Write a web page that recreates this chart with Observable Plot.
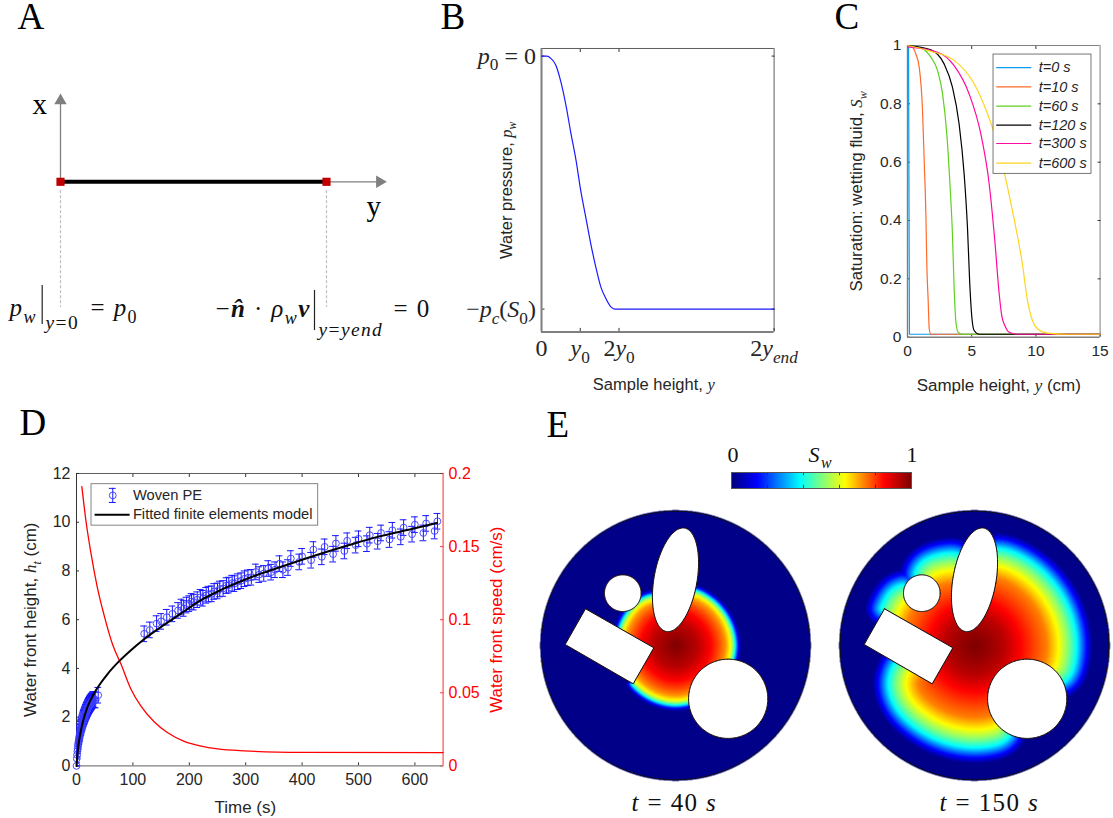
<!DOCTYPE html>
<html>
<head>
<meta charset="utf-8">
<script src="https://cdn.jsdelivr.net/npm/d3@7"></script>
<script src="https://cdn.jsdelivr.net/npm/@observablehq/plot@0.6"></script>
<style>
html,body{margin:0;padding:0;background:#fff;overflow:hidden}
#page{position:relative;width:1113px;height:818px;overflow:hidden}
#page svg{position:absolute;max-width:none;display:block}
</style>
</head>
<body>
<div id="page"></div>
<script>
/* ---------- B: water pressure profile ---------- */
const pressureY = [0,0.14,0.24,0.37,0.5,0.63,0.76,0.89,1.01,1.14,1.27,1.40,1.53,1.66,1.79,1.89,6];
const pressureP = [0,0,-0.009,-0.036,-0.102,-0.194,-0.306,-0.411,-0.530,-0.635,-0.741,-0.833,-0.912,-0.958,-0.991,-1,-1];
const pressureXTicks = [0,1,2,6];
const pressureXLabels = ["0","*y*_{0}","2*y*_{0}","2*y*_{*end*}"];
const pressureYTicks = [0,-1];
const pressureYLabels = ["*p*_{0} = 0","−*p*_{*c*}(*S*_{0})"];

/* ---------- C: saturation profiles ---------- */
const satLabels = ["t=0 s","t=10 s","t=60 s","t=120 s","t=300 s","t=600 s"];
const satColors = ["#0a9cf0","#ff6a2a","#5fd020","#000000","#ff0aa0","#ffd51e"];
const sat0X = [0,0.08,0.15,0.25,15];
const sat0S = [1,1,0.01,0.01,0.01];
const sat10X = [0,0.39,0.65,0.91,1.17,1.30,1.43,1.51,1.61,1.69,1.82,15];
const sat10S = [1,0.994,0.971,0.926,0.777,0.606,0.423,0.240,0.126,0.03,0.01,0.01];
const sat60X = [0,1.04,1.82,2.34,2.73,3.06,3.32,3.50,3.63,3.76,3.94,4.28,15];
const sat60S = [1,0.992,0.96,0.914,0.834,0.697,0.514,0.354,0.171,0.057,0.017,0.01,0.01];
const sat120X = [0,1.82,2.85,3.50,4.02,4.41,4.67,4.85,5.01,5.19,5.58,15];
const sat120S = [1,0.985,0.937,0.857,0.731,0.56,0.377,0.183,0.069,0.023,0.01,0.01];
const sat300X = [0,2.34,3.63,4.80,5.71,6.36,6.80,7.14,7.34,7.58,7.92,8.56,15];
const sat300S = [0.995,0.977,0.931,0.834,0.697,0.526,0.331,0.149,0.074,0.04,0.017,0.01,0.01];
const sat600X = [0,1.82,3.63,5.19,6.23,7.01,7.79,8.43,8.95,9.34,9.73,10.12,10.9,12.46,15];
const sat600S = [1,0.98,0.949,0.869,0.766,0.663,0.514,0.377,0.251,0.126,0.057,0.029,0.014,0.01,0.01];

/* ---------- D: water front ---------- */
const wovenTime = [0,0.5,1,1.5,2,2.5,3,3.5,4,4.5,5,5.5,6,6.5,7,7.5,8,8.5,9,9.5,10,10.5,11,11.5,12,12.5,13,13.5,14,14.5,15,15.5,16,16.5,17,17.5,18,18.5,19,19.5,20,20.5,21,21.5,22,22.5,23,23.5,24,24.5,25,25.5,26,26.5,27,27.5,28,29,30,32,34,38.5,
 120,130,142,150,160,170,180,186,190,195,200,204,208,214,220,224,230,234,240,244,250,254,260,266,270,276,280,286,292,298,304,310,318,324,332,340,345,352,360,366,375,380,395,400,416,420,435,440,455,460,475,480,495,500,515,520,534,540,555,560,575,580,595,600,615,620,635,640];
const wovenHeight = [0,0.3,0.45,0.6,0.7,0.82,0.9,0.98,1.05,1.13,1.2,1.26,1.32,1.38,1.43,1.5,1.55,1.58,1.63,1.68,1.72,1.76,1.8,1.84,1.88,1.92,1.95,1.99,2.02,2.05,2.08,2.11,2.14,2.17,2.2,2.22,2.25,2.28,2.3,2.33,2.35,2.38,2.4,2.43,2.45,2.47,2.49,2.51,2.53,2.55,2.57,2.58,2.6,2.62,2.64,2.65,2.67,2.7,2.73,2.72,2.7,2.9,
 5.42,5.58,5.84,5.93,6.1,6.24,6.38,6.52,6.46,6.6,6.66,6.75,6.72,6.82,6.92,6.88,7.0,7.05,7.06,7.16,7.18,7.26,7.28,7.4,7.42,7.5,7.48,7.56,7.6,7.68,7.72,7.74,7.96,7.85,7.9,8.1,7.95,8.05,8.3,8.05,8.14,8.51,8.37,8.6,8.44,8.88,8.58,8.99,8.69,9.13,8.82,9.24,9.06,9.32,9.12,9.47,9.22,9.56,9.29,9.67,9.40,9.78,9.51,9.90,9.56,9.95,9.64,10.04];
const wovenError = 0.32;
const fitTime = [0,1.2,4.7,10.6,19.5,31,43,55,77,96.5,117,149.7,185,220.7,256,298,328,363,400,445.5,499,534,600,639];
const fitHeight = [0,0.37,1.05,1.74,2.42,2.97,3.40,3.77,4.33,4.75,5.15,5.70,6.25,6.80,7.22,7.64,7.90,8.17,8.46,8.80,9.17,9.40,9.75,9.97];
const speedTime = [9.5,16.6,25.4,37,49,64,79,96,114,138,161,191,221,250,297,400,650];
const speedValue = [0.191,0.168,0.146,0.122,0.103,0.083,0.0695,0.053,0.041,0.030,0.0228,0.0168,0.0135,0.0116,0.0103,0.0093,0.0091];

/* ---------- E: saturation maps ---------- */
const profile40Dist = [0,22,35,44,50,54.5,57.5,59.5,62.5,65.5];
const profile40Sat  = [1,0.93,0.85,0.78,0.72,0.63,0.5,0.38,0.14,0.01];
const profile150Dist = [0,15,30,46,72,84,94,102,112,118];
const profile150Sat  = [1,0.97,0.93,0.85,0.74,0.63,0.5,0.38,0.14,0.01];
const jetStops = [0,0.14,0.38,0.5,0.63,0.85,1];
const jetColors = ["#00007f","#0000ff","#00ffff","#7fff7f","#ffff00","#ff0000","#7f0000"];
const barTicks = [0.2,0.4,0.6,0.8];
const diskRadius = 134.3;
const smallCircle = {x:-52.7,y:-52.3,r:18.3};
const bigCircle = {x:52.7,y:53.3,r:39.6};
const tiltedEllipse = {x:0,y:-65.7,a:52.5,b:21.5,deg:10};
const rectangle = [[-90,-36.7],[-21.7,2.3],[-42.3,38.3],[-110.3,-1]];

/* ---------- A: schematic ---------- */
const beamEnds = [0,1];
const axisEndY = 1.2;
const axisEndX = 0.325;

/* ---------- page-level text ---------- */
const panelLetters = [["A",17,28],["B",440,28],["C",834,28],["D",19,434],["E",546,436]];
const mathLabels = [
 ["*p*_{*w*}",9,315,25],["= *p*_{0}",90,315,25],
 ["_{*y*=0}",45,320.5,27],
 ["−~n̂~ · *ρ*_{*w*}~v~",215,316,25],["_{*y*=*y*_{*end*}}",318,327.5,27],["= 0",393,316,25],
 ["*t* = 40 *s*",631,810,25],["*t* = 150 *s*",939,810,25],
 ["0",727,461,22],["*S*_{*w*}",808,461,22],["1",906,461,22]
];
const schemLabels = [["x",32,113],["y",366,215]];
const bars = [[41.7,285,324],[314,290,330]];

/* ---------- helpers ---------- */
const page = document.getElementById("page");
const SANS = "'Liberation Sans',Arial,sans-serif";
const SERIF = "'Liberation Serif',serif";
const INK = "#262626";
const AXIS = "#7f7f7f";
const noLabel = () => "";

function mathify(root){
  root.querySelectorAll("text").forEach(t=>{
    const s=t.textContent;
    if(!/[_*~]/.test(s)) return;
    t.textContent="";
    let italic=false,bold=false,depth=0,run="",shift=0;
    const flush=()=>{
      if(!run) return;
      const ts=document.createElementNS("http://www.w3.org/2000/svg","tspan");
      const size=depth>0?0.72:1, target=depth>0?0.28:0;
      ts.textContent=run;
      ts.setAttribute("font-size",(size*100)+"%");
      ts.setAttribute("dy",((target-shift)/size).toFixed(3)+"em");
      shift=target;
      if(italic||bold){ts.setAttribute("font-style","italic");ts.setAttribute("font-family",SERIF);}
      if(bold) ts.setAttribute("font-weight","bold");
      t.appendChild(ts);run="";
    };
    for(let i=0;i<s.length;i++){
      const c=s[i];
      if(c==="_"&&s[i+1]==="{"){flush();depth++;i++;}
      else if(c==="}"){flush();depth--;}
      else if(c==="*"){flush();italic=!italic;}
      else if(c==="~"){flush();bold=!bold;}
      else run+=c;
    }
    flush();
  });
}
function place(plot,left,top){
  plot.style.left=left+"px";plot.style.top=top+"px";
  mathify(plot);page.appendChild(plot);return plot;
}
const clear={background:"transparent",overflow:"visible"};

/* ---------- Panel A ---------- */
const aPx=266;
place(Plot.plot({
  width:420,height:250,margin:0,style:clear,
  x:{domain:[-60/aPx,360/aPx],axis:null},
  y:{domain:[(181.3-310)/aPx,(181.3-60)/aPx],axis:null},
  marks:[
    Plot.ruleX(beamEnds,{y1:-0.034,y2:-0.4725,stroke:"#bdbdbd",strokeWidth:1.2,strokeDasharray:"3,2"}),
    Plot.ruleX([0],{y1:0,y2:axisEndX-0.02,stroke:AXIS,strokeWidth:1.3}),
    Plot.ruleY([0],{x1:1,x2:axisEndY,stroke:AXIS,strokeWidth:1.3}),
    Plot.dot([[0,axisEndX-0.02]],{symbol:"triangle",r:4.6,fill:AXIS}),
    Plot.dot([[axisEndY,0]],{symbol:"triangle",r:4.6,fill:AXIS,rotate:90}),
    Plot.ruleY([0],{x1:beamEnds[0],x2:beamEnds[1],stroke:"#000",strokeWidth:4}),
    Plot.dot(beamEnds.map(x=>[x,0]),{symbol:"square",r:4.6,fill:"#c00000"})
  ]
}),0,60);

/* ---------- Panel B ---------- */
{
  const ml=100,mr=40,mt=10,mb=70,L=540.7,R=773.3,T=48.3,B=331.7;
  const yDom=[-1.09,0.03];
  place(Plot.plot({
    width:R-L+ml+mr,height:B-T+mt+mb,marginLeft:ml,marginRight:mr,marginTop:mt,marginBottom:mb,
    style:{...clear,fontFamily:SANS,color:INK},
    x:{domain:[0,6]},y:{domain:yDom},
    marks:[
      Plot.ruleX([6],{stroke:"#333",strokeWidth:0.8}),
      Plot.ruleY([yDom[1]],{stroke:"#333",strokeWidth:0.8}),
      Plot.axisX({anchor:"top",ticks:pressureXTicks.slice(1,3),tickSize:-3,tickFormat:noLabel,label:null,stroke:"#333"}),
      Plot.axisY({anchor:"right",ticks:pressureYTicks,tickSize:-3,tickFormat:noLabel,label:null,stroke:"#333"}),
      Plot.axisX({ticks:pressureXTicks,tickSize:-3.5,tickPadding:11,label:null,stroke:"#333",fontSize:24,fontFamily:SERIF,
        tickFormat:d=>pressureXLabels[pressureXTicks.indexOf(d)]}),
      Plot.axisY({ticks:pressureYTicks,tickSize:-3.5,tickPadding:9,label:null,stroke:"#333",fontSize:24,fontFamily:SERIF,
        tickFormat:d=>pressureYLabels[pressureYTicks.indexOf(d)]}),
      Plot.ruleX([0],{stroke:AXIS,strokeWidth:2}),
      Plot.ruleY([yDom[0]],{stroke:AXIS,strokeWidth:2}),
      Plot.line(pressureY.map((x,i)=>[x,pressureP[i]]),{stroke:"#1a1aff",strokeWidth:1.2,curve:"monotone-x"}),
      Plot.text(["Sample height, *y*"],{frameAnchor:"bottom",dx:-4,dy:58,fontSize:16.5,fill:INK}),
      Plot.text(["Water pressure, *p*_{*w*}"],{frameAnchor:"left",textAnchor:"middle",dx:-35,rotate:-90,fontSize:16.5,fill:INK})
    ]
  }),L-ml,T-mt);
}

/* ---------- Panel C ---------- */
{
  const ml=70,mr=14,mt=10,mb=62,L=906.7,R=1099.3,T=45,B=336.7;
  const seriesX=[sat0X,sat10X,sat60X,sat120X,sat300X,sat600X];
  const seriesS=[sat0S,sat10S,sat60S,sat120S,sat300S,sat600S];
  const legendY=[0.924,0.858,0.792,0.727,0.664,0.597];
  place(Plot.plot({
    width:R-L+ml+mr,height:B-T+mt+mb,marginLeft:ml,marginRight:mr,marginTop:mt,marginBottom:mb,
    style:{...clear,fontFamily:SANS,color:INK},
    x:{domain:[0,15]},y:{domain:[0,1]},
    marks:[
      Plot.ruleX([15],{stroke:AXIS,strokeWidth:1}),
      Plot.ruleY([1],{stroke:AXIS,strokeWidth:1}),
      Plot.axisX({anchor:"top",ticks:[5,10],tickSize:-3,tickFormat:noLabel,label:null,stroke:"#333"}),
      Plot.axisY({anchor:"right",ticks:[0.2,0.4,0.6,0.8],tickSize:-3,tickFormat:noLabel,label:null,stroke:"#333"}),
      Plot.axisX({ticks:[0,5,10,15],tickSize:-3,tickPadding:11,label:null,stroke:"#333",fontSize:15.5,tickFormat:String}),
      Plot.axisY({ticks:[0,0.2,0.4,0.6,0.8,1],tickSize:-3,tickPadding:9,label:null,stroke:"#333",fontSize:15.5,tickFormat:String}),
      Plot.ruleX([0],{stroke:AXIS,strokeWidth:1.4}),
      Plot.ruleY([0],{stroke:AXIS,strokeWidth:1.4}),
      ...seriesX.map((xs,k)=>Plot.line(xs.map((x,i)=>[x,seriesS[k][i]]),{stroke:satColors[k],strokeWidth:1.2,curve:k?"monotone-x":"linear"})),
      Plot.rect([0],{x1:6.7,x2:14.33,y1:0.56,y2:0.969,fill:"#fff",stroke:"#555",strokeWidth:0.8}),
      ...satLabels.map((_,k)=>Plot.ruleY([legendY[k]],{x1:6.95,x2:9.68,stroke:satColors[k],strokeWidth:1.2})),
      Plot.text(satLabels,{x:10.22,y:(d,i)=>legendY[i],textAnchor:"start",fontSize:14.5,fontStyle:"italic",fill:INK}),
      Plot.text(["Sample height, *y* (cm)"],{frameAnchor:"bottom",dx:-5,dy:54,fontSize:17,fill:INK}),
      Plot.text(["Saturation: wetting fluid, *S*_{*w*}"],{frameAnchor:"left",textAnchor:"middle",dx:-51,rotate:-90,fontSize:16.8,fill:INK})
    ]
  }),L-ml,T-mt);
}

/* ---------- Panel D ---------- */
{
  const ml=60,mr=70,mt=10,mb=50,L=75.7,R=442.3,T=473.3,B=765.7;
  const common={width:R-L+ml+mr,height:B-T+mt+mb,marginLeft:ml,marginRight:mr,marginTop:mt,marginBottom:mb};
  const woven=wovenTime.map((t,i)=>({t,h:wovenHeight[i]}));
  const legendPoint=[{t:64.3,h:11.1}];
  /* right axis and speed curve */
  place(Plot.plot({
    ...common,style:{...clear,fontFamily:SANS},
    x:{domain:[0,650],axis:null},y:{domain:[0,0.2]},
    marks:[
      Plot.axisY({anchor:"right",ticks:[0,0.05,0.1,0.15,0.2],tickSize:-3.5,tickPadding:9,label:null,stroke:"#ff3030",fill:"#ff0000",fontSize:16,tickFormat:String}),
      Plot.ruleX([650],{stroke:"#ff5050",strokeWidth:1.2}),
      Plot.line(speedTime.map((t,i)=>[t,speedValue[i]]),{stroke:"#ff0000",strokeWidth:1.3,curve:"monotone-x"}),
      Plot.text(["Water front speed (cm/s)"],{frameAnchor:"right",textAnchor:"middle",dx:53.7,rotate:-90,fontSize:17,fill:"#ff0000"})
    ]
  }),L-ml,T-mt);
  /* left axis, data and fit */
  place(Plot.plot({
    ...common,style:{...clear,fontFamily:SANS,color:INK},
    x:{domain:[0,650]},y:{domain:[0,12]},
    marks:[
      Plot.ruleY([12],{stroke:"#333",strokeWidth:0.8}),
      Plot.axisX({anchor:"top",ticks:[100,200,300,400,500,600],tickSize:-3,tickFormat:noLabel,label:null,stroke:"#333"}),
      Plot.axisX({ticks:[0,100,200,300,400,500,600],tickSize:-3,tickPadding:11,label:null,stroke:"#333",fontSize:16,tickFormat:String}),
      Plot.axisY({ticks:[0,2,4,6,8,10,12],tickSize:-3,tickPadding:9,label:null,stroke:"#333",fontSize:16,tickFormat:String}),
      Plot.ruleX([0],{stroke:"#333",strokeWidth:1}),
      Plot.ruleY([0],{stroke:AXIS,strokeWidth:1.4}),
      Plot.ruleX(woven,{x:"t",y1:d=>Math.max(0,d.h-wovenError),y2:d=>Math.min(12,d.h+wovenError),stroke:"#1414ff",strokeWidth:1}),
      Plot.ruleY(woven,{y:d=>d.h+wovenError,x1:d=>Math.max(0,d.t-6),x2:d=>d.t+6,stroke:"#1414ff",strokeWidth:1}),
      Plot.ruleY(woven,{y:d=>Math.max(0,d.h-wovenError),x1:d=>Math.max(0,d.t-6),x2:d=>d.t+6,stroke:"#1414ff",strokeWidth:1}),
      Plot.dot(woven,{x:"t",y:"h",r:3.4,stroke:"#3a3aff",strokeWidth:0.9,fill:"none"}),
      Plot.line(fitTime.map((t,i)=>[t,fitHeight[i]]),{stroke:"#000",strokeWidth:2,curve:"monotone-x"}),
      Plot.rect([0],{x1:26.6,x2:428.6,y1:9.86,y2:11.56,fill:"#fff",stroke:"#666",strokeWidth:0.8}),
      Plot.ruleX(legendPoint,{x:"t",y1:d=>d.h-0.29,y2:d=>d.h+0.29,stroke:"#1414ff",strokeWidth:1}),
      Plot.ruleY(legendPoint,{y:d=>d.h+0.29,x1:d=>d.t-6,x2:d=>d.t+6,stroke:"#1414ff",strokeWidth:1}),
      Plot.ruleY(legendPoint,{y:d=>d.h-0.29,x1:d=>d.t-6,x2:d=>d.t+6,stroke:"#1414ff",strokeWidth:1}),
      Plot.dot(legendPoint,{x:"t",y:"h",r:3.4,stroke:"#3a3aff",strokeWidth:0.9}),
      Plot.ruleY([10.31],{x1:33,x2:95,stroke:"#000",strokeWidth:2}),
      Plot.text(["Woven PE","Fitted finite elements model"],{x:100,y:(d,i)=>[11.1,10.31][i],textAnchor:"start",fontSize:14.7,fill:INK}),
      Plot.text(["Time (s)"],{frameAnchor:"bottom",dx:-14.5,dy:47,fontSize:17,fill:INK}),
      Plot.text(["Water front height, *h*_{*t*} (cm)"],{frameAnchor:"left",textAnchor:"middle",dx:-45.7,rotate:-90,fontSize:17,fill:INK})
    ]
  }),L-ml,T-mt);
}

/* ---------- Panel E ---------- */
const jet={type:"linear",domain:jetStops,range:jetColors,clamp:true};
const circlePts=(c,n=180)=>d3.range(n+1).map(i=>{const a=i/n*2*Math.PI;return [c.x+c.r*Math.cos(a),c.y+c.r*Math.sin(a)];});
const ellipsePts=(e,n=120)=>{
  const th=(e.deg)*Math.PI/180;
  return d3.range(n+1).map(i=>{const a=i/n*2*Math.PI,u=e.b*Math.cos(a),v=e.a*Math.sin(a);
    return [e.x+u*Math.cos(th)-v*Math.sin(th), e.y+u*Math.sin(th)+v*Math.cos(th)];});
};
const rectPts=[...rectangle,rectangle[0]];
const ellPoly=ellipsePts(tiltedEllipse);
const blockedAt=(x,y)=>
  Math.hypot(x-smallCircle.x,y-smallCircle.y)<smallCircle.r||
  Math.hypot(x-bigCircle.x,y-bigCircle.y)<bigCircle.r||
  d3.polygonContains(ellPoly,[x,y])||d3.polygonContains(rectangle,[x,y]);

/* distance travelled from the inlet around the obstacles (path length on a grid) */
const half=136, cellsPerPx=2, N=2*half*cellsPerPx, H=1/cellsPerPx;
const travel=new Float64Array(N*N).fill(Infinity);
const blocked=new Uint8Array(N*N);
for(let j=0;j<N;j++)for(let i=0;i<N;i++){
  const x=-half+(i+.5)*H,y=-half+(j+.5)*H;
  blocked[j*N+i]=(Math.hypot(x,y)>diskRadius+1||blockedAt(x,y))?1:0;
}
travel[(N/2)*N+N/2]=0;
const update=(i,j)=>{
  const k=j*N+i; if(blocked[k]) return;
  const a=Math.min(i>0?travel[k-1]:Infinity,i<N-1?travel[k+1]:Infinity);
  const b=Math.min(j>0?travel[k-N]:Infinity,j<N-1?travel[k+N]:Infinity);
  if(a===Infinity&&b===Infinity) return;
  const t=Math.abs(a-b)>=H?Math.min(a,b)+H:(a+b+Math.sqrt(2*H*H-(a-b)*(a-b)))/2;
  if(t<travel[k]) travel[k]=t;
};
for(let it=0;it<4;it++){
  for(let j=0;j<N;j++)for(let i=0;i<N;i++)update(i,j);
  for(let j=0;j<N;j++)for(let i=N-1;i>=0;i--)update(i,j);
  for(let j=N-1;j>=0;j--)for(let i=0;i<N;i++)update(i,j);
  for(let j=N-1;j>=0;j--)for(let i=N-1;i>=0;i--)update(i,j);
}
function mapValues(dist,sat){
  const look=d3.scaleLinear().domain(dist).range(sat).clamp(true);
  const v=new Array(N*N);
  for(let j=0;j<N;j++)for(let i=0;i<N;i++){
    const x=-half+(i+.5)*H,y=-half+(j+.5)*H,k=j*N+i;
    if(Math.hypot(x,y)>diskRadius+1){v[k]=NaN;continue;}
    v[k]=blocked[k]?1:(travel[k]===Infinity?0:look(travel[k]));
  }
  return v;
}
function disk(dist,sat,left,top){
  const shape=(pts)=>Plot.line(pts,{fill:"#fff",stroke:"#111",strokeWidth:1});
  place(Plot.plot({
    width:2*half,height:2*half,margin:0,style:clear,
    x:{domain:[-half,half],axis:null},y:{domain:[half,-half],axis:null},
    color:jet,
    marks:[
      Plot.raster(mapValues(dist,sat),{width:N,height:N,x1:-half,x2:half,y1:-half,y2:half}),
      Plot.line(circlePts({x:0,y:0,r:diskRadius},360),{stroke:"#111",strokeWidth:1}),
      shape(circlePts(smallCircle)),shape(circlePts(bigCircle)),shape(ellPoly),shape(rectPts)
    ]
  }),left,top);
}
disk(profile40Dist,profile40Sat,675-half,645-half);
disk(profile150Dist,profile150Sat,974.3-half,645-half);

/* colour bar */
place(Plot.plot({
  width:180,height:16,margin:0,style:clear,
  x:{domain:[0,1],axis:null},y:{domain:[0,1],axis:null},color:jet,
  marks:[
    Plot.raster(d3.range(181).map(i=>i/180),{width:181,height:1,x1:0,x2:1,y1:0,y2:1}),
    Plot.ruleX(barTicks,{y1:0,y2:0.2,stroke:"#222",strokeWidth:0.8}),
    Plot.ruleX(barTicks,{y1:0.8,y2:1,stroke:"#222",strokeWidth:0.8}),
    Plot.frame({stroke:"#555",strokeWidth:1})
  ]
}),731,472);

/* ---------- page-level text ---------- */
place(Plot.plot({
  width:1113,height:818,margin:0,style:{...clear,fontFamily:SERIF,letterSpacing:"1.4px"},
  x:{domain:[0,1113],axis:null},y:{domain:[818,0],axis:null},
  marks:[
    Plot.text(panelLetters,{x:d=>d[1],y:d=>d[2],text:d=>d[0],fontSize:37,textAnchor:"start",lineAnchor:"bottom",fill:"#000"}),
    Plot.text(schemLabels,{x:d=>d[1],y:d=>d[2],text:d=>d[0],fontSize:29,textAnchor:"start",lineAnchor:"bottom",fill:"#000"}),
    Plot.text(mathLabels,{x:d=>d[1],y:d=>d[2],text:d=>d[0],fontSize:d=>d[3],textAnchor:"start",lineAnchor:"bottom",fill:"#111"}),
    Plot.ruleX(bars,{x:d=>d[0],y1:d=>d[1],y2:d=>d[2],stroke:"#222",strokeWidth:1.2})
  ]
}),0,0);
</script>
</body>
</html>
